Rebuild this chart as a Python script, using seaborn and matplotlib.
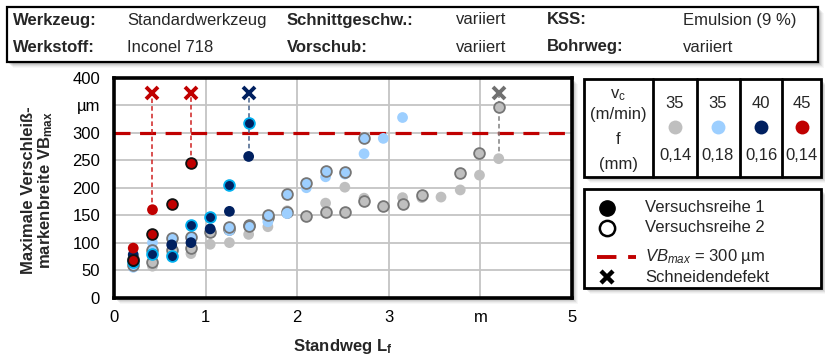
import numpy as np
import pandas as pd
import matplotlib
matplotlib.use("Agg")
import matplotlib.pyplot as plt
import seaborn as sns
from matplotlib.patches import Rectangle
from matplotlib.lines import Line2D

nan = np.nan

# Standweg L_f in m (one measurement every 0.21 m)
standweg = [0.21, 0.42, 0.63, 0.84, 1.05, 1.26, 1.47, 1.68, 1.89, 2.10,
            2.31, 2.52, 2.73, 2.94, 3.15, 3.36, 3.57, 3.78, 3.99, 4.20]

# VB_max in µm, Versuchsreihe 1 (r1) and Versuchsreihe 2 (r2)
vc35_f14_r1 = [65, 57, 78, 80, 97, 100, 115, 129, 158, nan,
               172, 201, 181, nan, 182, 182, 183, 196, 223, 253]
vc35_f14_r2 = [70, 65, 86, 91, 120, 125, 133, 147, 155, 148,
               155, 156, 175, 167, 171, 187, nan, 227, 263, 348]
vc35_f18_r1 = [55, 100, nan, nan, nan, 122, nan, 138, 153, 200,
               220, 225, 262, 290, 328]
vc35_f18_r2 = [60, 86, 108, 111, nan, 128, 130, 150, 188, 209,
               230, 229, 290]
vc40_f16_r1 = [78, nan, 96, 100, 125, 157, 257]
vc40_f16_r2 = [65, 80, 75, 132, 147, 205, 318]
vc45_f14_r1 = [90, 160]
vc45_f14_r2 = [68, 116, 170, 245]

# Parameter table
vc_values = ["35", "35", "40", "45"]
f_values = ["0,14", "0,18", "0,16", "0,14"]

# Schneidendefekt: position, last measured value, series
defekt_L = [0.42, 0.84, 1.47, 4.20]
defekt_VB = [160, 245, 257, 253]
defekt_serie = ["vc45", "vc45", "vc40", "vc35a"]
defekt_level = 372

vb_limit = 300

x_ticks = [0, 1, 2, 3, 4, 5]
x_ticklabels = ["0", "1", "2", "3", "m", "5"]
y_ticks = [0, 50, 100, 150, 200, 250, 300, 350, 400]
y_ticklabels = ["0", "50", "100", "150", "200", "250", "300", "µm", "400"]

serien = {
    "vc35a": (vc35_f14_r1, vc35_f14_r2),
    "vc35b": (vc35_f18_r1, vc35_f18_r2),
    "vc40": (vc40_f16_r1, vc40_f16_r2),
    "vc45": (vc45_f14_r1, vc45_f14_r2),
}
fill = {"vc35a": "#bfbfbf", "vc35b": "#9dcfff", "vc40": "#002060", "vc45": "#c00000"}
edge = {"vc35a": "#767676", "vc35b": "#767676", "vc40": "#00b0f0", "vc45": "#111111"}
linie = {"vc35a": "#808080", "vc35b": "#6fa8dc", "vc40": "#44608a", "vc45": "#d02020"}

rows = []
for name, (r1, r2) in serien.items():
    for reihe, vals in (("1", r1), ("2", r2)):
        for L, v in zip(standweg, vals):
            if not np.isnan(v):
                rows.append({"L": L, "VB": v, "serie": name, "reihe": reihe})
df = pd.DataFrame(rows)

sns.set_theme(style="white")
plt.rcParams["font.family"] = ["Liberation Sans", "DejaVu Sans"]
plt.rcParams["mathtext.fontset"] = "custom"
plt.rcParams["mathtext.rm"] = "Liberation Sans"
plt.rcParams["mathtext.it"] = "Liberation Sans:italic"
plt.rcParams["mathtext.bf"] = "Liberation Sans:bold"

W, H = 825, 358
fig = plt.figure(figsize=(W / 100, H / 100), dpi=100)

# pixel-coordinate canvas for boxes and texts
bg = fig.add_axes([0, 0, 1, 1], zorder=-1)
bg.set_xlim(0, W)
bg.set_ylim(H, 0)
bg.axis("off")


def shadow(x0, y0, x1, y1):
    for i, a in enumerate([0.10, 0.08, 0.06, 0.04, 0.03]):
        d = 2 + i
        bg.add_patch(Rectangle((x0 + d, y0 + d), x1 - x0, y1 - y0,
                               facecolor="#000000", alpha=a, edgecolor="none", zorder=0))


def box(x0, y0, x1, y1, lw=2.0):
    shadow(x0, y0, x1, y1)
    bg.add_patch(Rectangle((x0, y0), x1 - x0, y1 - y0, facecolor="white",
                           edgecolor="black", lw=lw, zorder=1))


# header
box(7, 7, 818, 62, lw=1.6)
fs = 12
kopf = [
    (13, 20, "Werkzeug:", "bold"), (127, 20, "Standardwerkzeug", "normal"),
    (287, 20, "Schnittgeschw.:", "bold"), (456, 20, "variiert", "normal"),
    (547, 20, "KSS:", "bold"), (683, 20, "Emulsion (9 %)", "normal"),
    (13, 47, "Werkstoff:", "bold"), (127, 47, "Inconel 718", "normal"),
    (287, 47, "Vorschub:", "bold"), (456, 47, "variiert", "normal"),
    (547, 47, "Bohrweg:", "bold"), (683, 47, "variiert", "normal"),
]
for x, y, t, w in kopf:
    bg.text(x, y, t, fontsize=fs, fontweight=w, ha="left", va="center", zorder=2)

# main axes
shadow(114, 78, 572, 297.5)
ax = fig.add_axes([114 / W, 1 - 297.5 / H, (572 - 114) / W, (297.5 - 78) / H])
ax.set_xlim(0, 5)
ax.set_ylim(0, 400)
ax.set_xticks(x_ticks)
ax.set_xticklabels(x_ticklabels)
ax.set_yticks(y_ticks)
ax.set_yticklabels(y_ticklabels)
ax.grid(True, color="#c4c4c4", lw=1.3, zorder=0)
ax.set_axisbelow(True)
ax.tick_params(length=0, labelsize=fs, colors="black")
ax.tick_params(axis="y", pad=10)
ax.tick_params(axis="x", pad=9)
for s in ax.spines.values():
    s.set_visible(True)
    s.set_color("black")
    s.set_linewidth(2.6)

ax.axhline(vb_limit, color="#c00000", lw=2.3, dashes=(5, 3), zorder=2)

for L, v, s in zip(defekt_L, defekt_VB, defekt_serie):
    ax.plot([L, L], [v, defekt_level], color=linie[s], lw=1.1, dashes=(3, 2), zorder=2)

for name in serien:
    for reihe in ("1", "2"):
        sub = df[(df.serie == name) & (df.reihe == reihe)]
        sns.scatterplot(data=sub, x="L", y="VB", ax=ax, s=60,
                        color=fill[name],
                        edgecolor=edge[name] if reihe == "2" else "none",
                        linewidth=1.3 if reihe == "2" else 0,
                        zorder=3, legend=False)

for L, s in zip(defekt_L, defekt_serie):
    c = "#707070" if s == "vc35a" else ("#002060" if s == "vc40" else "#c00000")
    ax.plot([L], [defekt_level], marker="x", ms=8, mew=2.8, color=c, zorder=4)

ax.set_xlabel("")
ax.set_ylabel("")
fig.text(343 / W, 1 - 346 / H, r"Standweg L$_\mathbf{f}$", fontsize=fs,
         fontweight="bold", ha="center", va="center")
fig.text(38 / W, 1 - 190 / H, "Maximale Verschleiß-\nmarkenbreite VB$_\\mathbf{max}$",
         fontsize=fs, fontweight="bold", rotation=90, ha="center", va="center",
         multialignment="center", linespacing=1.05)

# parameter table
box(584, 79, 821, 177, lw=2.0)
for xd in (653, 697, 740, 782):
    bg.plot([xd, xd], [79, 177], color="black", lw=2.0, zorder=2)
bg.text(618, 95, r"v$_\mathregular{c}$", fontsize=fs, ha="center", va="center", zorder=3)
bg.text(618, 114, "(m/min)", fontsize=fs, ha="center", va="center", zorder=3)
bg.text(618, 139, "f", fontsize=fs, ha="center", va="center", zorder=3)
bg.text(618, 165, "(mm)", fontsize=fs, ha="center", va="center", zorder=3)
col_x = [675, 718, 761, 802]
for cx, vc, f, name in zip(col_x, vc_values, f_values, serien):
    bg.text(cx, 104, vc, fontsize=fs, ha="center", va="center", zorder=3)
    bg.plot([cx], [127], marker="o", ms=10, color=fill[name], mec="none", zorder=3)
    bg.text(cx, 155, f, fontsize=fs, ha="center", va="center", zorder=3)

# legend box
box(584, 189, 821, 288, lw=2.0)
bg.plot([607], [208], marker="o", ms=11, color="black", zorder=3)
bg.plot([607], [228], marker="o", ms=11, mfc="white", mec="black", mew=1.8, zorder=3)
bg.plot([597, 636], [257, 257], color="#c00000", lw=2.8, dashes=(5, 3), zorder=3)
bg.plot([607], [277], marker="x", ms=9, mew=3.2, color="black", zorder=3)
bg.text(645, 208, "Versuchsreihe 1", fontsize=fs, ha="left", va="center", zorder=3)
bg.text(645, 228, "Versuchsreihe 2", fontsize=fs, ha="left", va="center", zorder=3)
bg.text(645, 256, r"$VB_{max}$ = 300 µm", fontsize=fs, ha="left", va="center", zorder=3)
bg.text(645, 277, "Schneidendefekt", fontsize=fs, ha="left", va="center", zorder=3)

fig.savefig("out.png", dpi=100)
